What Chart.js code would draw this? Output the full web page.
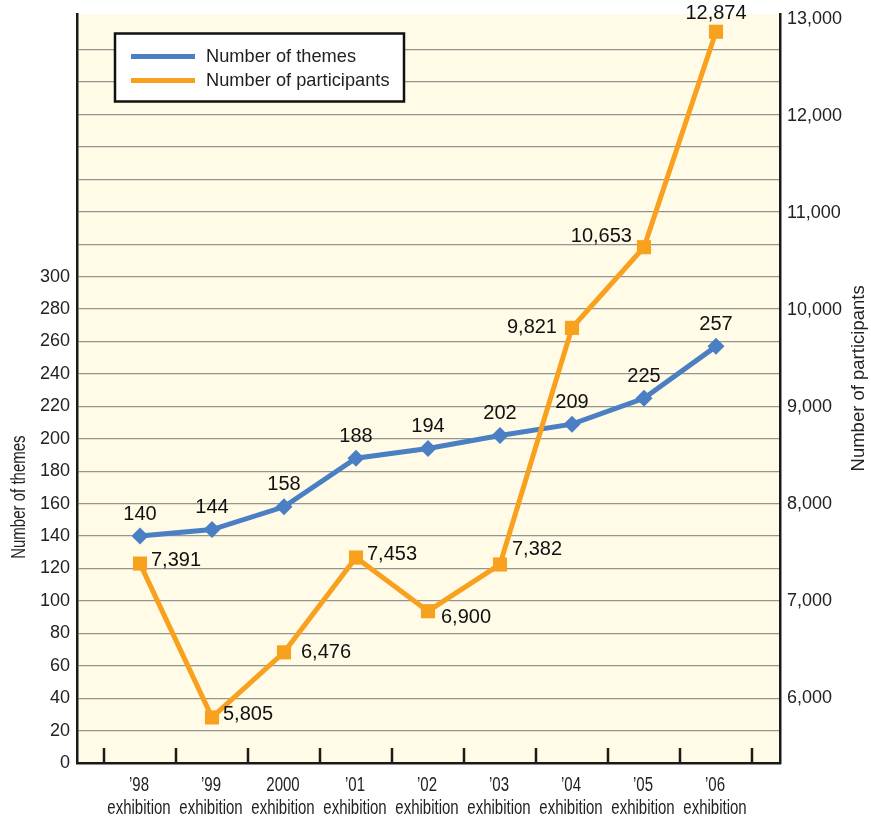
<!DOCTYPE html>
<html>
<head>
<meta charset="utf-8">
<script src="https://cdn.jsdelivr.net/npm/chart.js@4.4.1/dist/chart.umd.min.js"></script>
<style>
  html, body { margin: 0; padding: 0; background: #ffffff; }
  #wrap { width: 871px; height: 819px; }
</style>
</head>
<body>
<div id="wrap"><canvas id="c" width="871" height="819"></canvas></div>
<script>
// ---- data ----
const categories = ["\u201998", "\u201999", "2000", "\u201901", "\u201902", "\u201903", "\u201904", "\u201905", "\u201906"];
const categorySuffix = "exhibition";
const themes = [140, 144, 158, 188, 194, 202, 209, 225, 257];
const participants = [7391, 5805, 6476, 7453, 6900, 7382, 9821, 10653, 12874];
const themeTicks = [0, 20, 40, 60, 80, 100, 120, 140, 160, 180, 200, 220, 240, 260, 280, 300];
const participantTicks = [6000, 7000, 8000, 9000, 10000, 11000, 12000, 13000];

const seriesNames = ["Number of themes", "Number of participants"];
const axisTitles = ["Number of themes", "Number of participants"];

// label placement (style only)
const themeLabelPos = ["above","above","above","above","above","above","above","above","above"];
const participantLabelPos = ["right","right","rightFar","right","belowRight","aboveRight","left","aboveLeft","aboveTop"];

const BLUE = "#4a7fc3";
const ORANGE = "#f8a11f";
const PLOT_BG = "#fffbe6";
const FONT = "'Liberation Sans', Arial, sans-serif";
const SQUEEZE = 0.75;

const placements = {
  above:      { dx: 0,   dy: -22, align: "center" },
  aboveTop:   { dx: 0,   dy: -18, align: "center" },
  right:      { dx: 11,  dy: -3,  align: "left" },
  rightFar:   { dx: 17,  dy: 0,   align: "left" },
  belowRight: { dx: 13,  dy: 6,   align: "left" },
  aboveRight: { dx: 12,  dy: -15, align: "left" },
  left:       { dx: -15, dy: 0,   align: "right" },
  aboveLeft:  { dx: -12, dy: -11, align: "right" }
};

const fmt = v => Number(v).toLocaleString("en-US");

const bgPlugin = {
  id: "bg",
  beforeDraw(chart) {
    const { ctx, chartArea: a } = chart;
    ctx.save();
    ctx.fillStyle = "#ffffff";
    ctx.fillRect(0, 0, chart.width, chart.height);
    ctx.fillStyle = PLOT_BG;
    ctx.fillRect(a.left, a.top, a.right - a.left, a.bottom - a.top);
    ctx.restore();
  }
};

// tick marks between categories (inside plot) + condensed category labels
const xAxisPlugin = {
  id: "xAxisDecor",
  afterDraw(chart) {
    const { ctx, chartArea: a } = chart;
    const xs = chart.scales.x;
    ctx.save();
    ctx.strokeStyle = "#1a1a1a";
    ctx.lineWidth = 2.5;
    for (let i = 0; i <= categories.length; i++) {
      const px = xs.getPixelForValue(i - 0.5);
      ctx.beginPath();
      ctx.moveTo(px, a.bottom);
      ctx.lineTo(px, a.bottom - 15);
      ctx.stroke();
    }
    ctx.fillStyle = "#222222";
    ctx.font = "20px " + FONT;
    ctx.textAlign = "center";
    ctx.textBaseline = "middle";
    categories.forEach((c, i) => {
      const px = xs.getPixelForValue(i);
      ctx.save();
      ctx.translate(px - 1, a.bottom + 22);
      ctx.scale(SQUEEZE, 1);
      ctx.fillText(c, 0, 0);
      ctx.fillText(categorySuffix, 0, 23);
      ctx.restore();
    });
    ctx.restore();
  }
};

const labelPlugin = {
  id: "dataLabels",
  afterDatasetsDraw(chart) {
    const { ctx } = chart;
    ctx.save();
    ctx.font = "20px " + FONT;
    ctx.fillStyle = "#111111";
    ctx.textBaseline = "middle";
    chart.data.datasets.forEach((ds, di) => {
      const meta = chart.getDatasetMeta(di);
      const pos = ds.labelPos;
      meta.data.forEach((el, i) => {
        const p = placements[pos[i]];
        ctx.textAlign = p.align;
        ctx.fillText(fmt(ds.values[i]), el.x + p.dx, el.y + p.dy);
      });
    });
    ctx.restore();
  }
};

const legendPlugin = {
  id: "boxLegend",
  afterDraw(chart) {
    const { ctx, chartArea: a } = chart;
    const x0 = a.left + 38, y0 = a.top + 19.5, w = 289, h = 68;
    ctx.save();
    ctx.fillStyle = "#ffffff";
    ctx.fillRect(x0, y0, w, h);
    ctx.strokeStyle = "#111111";
    ctx.lineWidth = 2.5;
    ctx.strokeRect(x0, y0, w, h);
    const items = [
      { label: seriesNames[0], color: BLUE },
      { label: seriesNames[1], color: ORANGE }
    ];
    ctx.font = "19px " + FONT;
    ctx.textBaseline = "middle";
    ctx.textAlign = "left";
    items.forEach((it, k) => {
      const cy = y0 + 23 + k * 24;
      ctx.strokeStyle = it.color;
      ctx.lineWidth = 5;
      ctx.beginPath();
      ctx.moveTo(x0 + 16, cy);
      ctx.lineTo(x0 + 80, cy);
      ctx.stroke();
      ctx.fillStyle = "#222222";
      ctx.save();
      ctx.translate(x0 + 91, cy);
      ctx.scale(0.96, 1);
      ctx.fillText(it.label, 0, 0);
      ctx.restore();
    });
    ctx.restore();
  }
};

const titlePlugin = {
  id: "axisTitles",
  afterDraw(chart) {
    const { ctx } = chart;
    ctx.save();
    ctx.fillStyle = "#222222";
    ctx.textAlign = "center";
    ctx.textBaseline = "middle";
    const yl = chart.scales.y;
    // left title (condensed)
    ctx.save();
    ctx.font = "20px " + FONT;
    ctx.translate(19, yl.getPixelForValue(164));
    ctx.rotate(-Math.PI / 2);
    ctx.scale(SQUEEZE, 1);
    ctx.fillText(axisTitles[0], 0, 0);
    ctx.restore();
    // right title
    const yr = chart.scales.y1;
    ctx.save();
    ctx.font = "18.5px " + FONT;
    ctx.translate(chart.width - 12, yr.getPixelForValue(9300));
    ctx.rotate(-Math.PI / 2);
    ctx.fillText(axisTitles[1], 0, 0);
    ctx.restore();
    ctx.restore();
  }
};

const fitVertical = w => s => { s.width = w; s.paddingTop = 0; s.paddingBottom = 0; };

const ctx = document.getElementById("c").getContext("2d");
new Chart(ctx, {
  type: "line",
  data: {
    datasets: [
      {
        label: seriesNames[0],
        data: themes.map((v, i) => ({ x: i, y: v })),
        values: themes,
        labelPos: themeLabelPos,
        yAxisID: "y",
        borderColor: BLUE,
        backgroundColor: BLUE,
        borderWidth: 5,
        pointStyle: "rectRot",
        pointRadius: 8.5,
        pointBorderWidth: 0,
        tension: 0,
        order: 1
      },
      {
        label: seriesNames[1],
        data: participants.map((v, i) => ({ x: i, y: v })),
        values: participants,
        labelPos: participantLabelPos,
        yAxisID: "y1",
        borderColor: ORANGE,
        backgroundColor: ORANGE,
        borderWidth: 5,
        pointStyle: "rect",
        pointRadius: 10,
        pointBorderWidth: 0,
        tension: 0,
        order: 0
      }
    ]
  },
  options: {
    responsive: false,
    animation: false,
    devicePixelRatio: 1,
    layout: { autoPadding: false, padding: { top: 14, left: 0, right: 0, bottom: 0 } },
    plugins: {
      legend: { display: false },
      tooltip: { enabled: false },
      title: { display: false }
    },
    scales: {
      x: {
        type: "linear",
        min: -0.875,
        max: 8.889,
        afterBuildTicks: s => { s.ticks = categories.map((c, i) => ({ value: i })); },
        afterFit: s => { s.height = 56; s.paddingLeft = 0; s.paddingRight = 0; },
        ticks: { display: false },
        grid: { display: false, drawTicks: false },
        border: { display: true, color: "#1a1a1a", width: 2.5 }
      },
      y: {
        position: "left",
        min: 0,
        max: 462,
        afterBuildTicks: s => {
          const t = [];
          for (let v = 0; v <= 440; v += 20) t.push({ value: v });
          s.ticks = t;
        },
        afterFit: fitVertical(77),
        ticks: {
          callback: v => (themeTicks.includes(v) ? String(v) : ""),
          font: { family: FONT, size: 18 },
          color: "#222222",
          padding: 7
        },
        grid: { color: "#95958f", lineWidth: 1.3, drawTicks: false },
        border: { display: true, color: "#1a1a1a", width: 2.5 }
      },
      y1: {
        position: "right",
        min: 5335,
        max: 13057,
        afterBuildTicks: s => { s.ticks = participantTicks.map(v => ({ value: v })); },
        afterFit: fitVertical(91),
        ticks: {
          callback: v => fmt(v),
          font: { family: FONT, size: 18 },
          color: "#222222",
          padding: 7
        },
        grid: { display: false, drawTicks: false },
        border: { display: true, color: "#1a1a1a", width: 2.5 }
      }
    }
  },
  plugins: [bgPlugin, labelPlugin, xAxisPlugin, legendPlugin, titlePlugin]
});
</script>
</body>
</html>
